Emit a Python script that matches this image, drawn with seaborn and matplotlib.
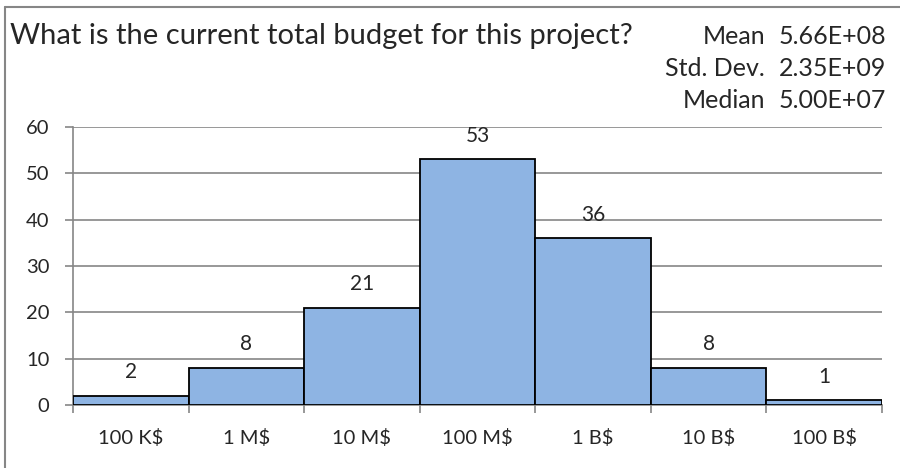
import pandas as pd
import matplotlib.pyplot as plt
import seaborn as sns
from matplotlib.lines import Line2D

# Dados
faixas = ['100 K$', '1 M$', '10 M$', '100 M$', '1 B$', '10 B$', '100 B$']
contagem = [2, 8, 21, 53, 36, 8, 1]
stat_nomes = ['Mean', 'Std. Dev.', 'Median']
stat_valores = ['5.66E+08', '2.35E+09', '5.00E+07']
titulo = 'What is the current total budget for this project?'

df = pd.DataFrame({'faixa': faixas, 'n': contagem})

sns.set_style('white')
plt.rcParams['font.family'] = ['Lato', 'DejaVu Sans']

fig = plt.figure(figsize=(9, 4.68), dpi=100)
ax = fig.add_axes([73 / 900, 1 - 405 / 468, (882 - 73) / 900, (405 - 127) / 468])

cinza = '#868686'

# Barras
sns.barplot(data=df, x='faixa', y='n', color='#8EB4E3', saturation=1,
            width=1.0, edgecolor='black', linewidth=1.3, ax=ax, zorder=3)

ax.set_xlim(-0.5, len(faixas) - 0.5)
ax.set_ylim(0, 60)
ax.set_yticks(range(0, 61, 10))
ax.grid(axis='y', color=cinza, linewidth=1.2, zorder=0)
ax.set_axisbelow(True)
ax.set_xlabel('')
ax.set_ylabel('')

for s in ['top', 'right']:
    ax.spines[s].set_visible(False)
for s in ['left', 'bottom']:
    ax.spines[s].set_color(cinza)
    ax.spines[s].set_linewidth(1.2)

# ticks do eixo x nas bordas das barras
ax.set_xticks([i - 0.5 for i in range(len(faixas) + 1)], minor=False)
ax.set_xticklabels([''] * (len(faixas) + 1))
ax.set_xticks(range(len(faixas)), minor=True)
ax.set_xticklabels(faixas, minor=True, fontsize=14.5)
ax.tick_params(axis='x', which='major', length=6, width=1.2, color=cinza, direction='out')
ax.tick_params(axis='x', which='minor', length=0, pad=17)
ax.tick_params(axis='y', length=6, width=1.2, color=cinza, labelsize=14.5, pad=11)
ax.tick_params(bottom=True, left=True)

# Rótulos
for i, v in enumerate(contagem):
    ax.annotate(str(v), (i, v), xytext=(0, 17), textcoords='offset points',
                ha='center', va='center', fontsize=15)

# Título e estatísticas
fig.text(10 / 900, 1 - 36 / 468, titulo, fontsize=21, ha='left', va='center')
for k, (nome, val) in enumerate(zip(stat_nomes, stat_valores)):
    y = 1 - (36 + 32 * k) / 468
    fig.text(765 / 900, y, nome, fontsize=18, ha='right', va='center')
    fig.text(779 / 900, y, val, fontsize=18, ha='left', va='center')

# Borda
fig.add_artist(Line2D([5 / 900, 5 / 900], [0, 1 - 7 / 468], color=cinza, linewidth=1.5,
                      transform=fig.transFigure))
fig.add_artist(Line2D([5 / 900, 1], [1 - 7 / 468, 1 - 7 / 468], color=cinza, linewidth=1.5,
                      transform=fig.transFigure))

fig.savefig('out.png', dpi=100)
